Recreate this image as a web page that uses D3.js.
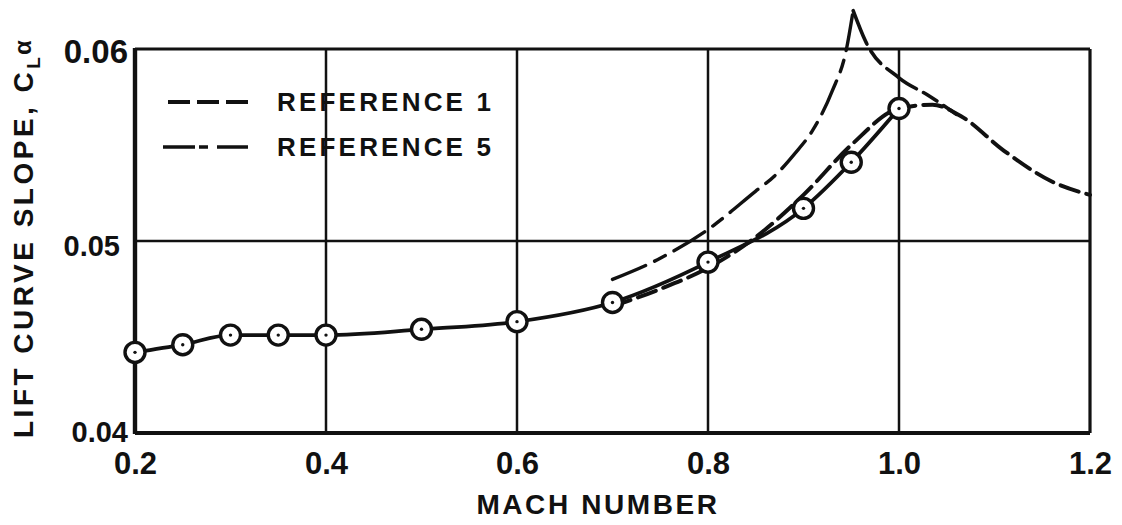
<!DOCTYPE html>
<html><head><meta charset="utf-8">
<script src="https://cdn.jsdelivr.net/npm/d3@7"></script>
<style>
html,body{margin:0;padding:0;background:#fff;}
svg text{font-family:"Liberation Sans",Arial,sans-serif;font-weight:bold;fill:#111;}
</style></head>
<body>
<svg id="c" width="1122" height="525"></svg>
<script>
// ---- data ----
const machTicks = [0.2, 0.4, 0.6, 0.8, 1.0, 1.2];
const machTickLabels = ["0.2", "0.4", "0.6", "0.8", "1.0", "1.2"];
const clTicks = [0.04, 0.05, 0.06];
const clTickLabels = ["0.04", "0.05", "0.06"];

const testMach = [0.2, 0.25, 0.3, 0.35, 0.4, 0.5, 0.6, 0.7, 0.8, 0.9, 0.95, 1.0];
const testCL   = [0.0442, 0.0446, 0.0451, 0.0451, 0.0451, 0.0454, 0.0458, 0.0468, 0.0489, 0.0517, 0.0541, 0.0569];

const ref1Mach = [0.7, 0.75, 0.8, 0.85, 0.9, 0.95, 1.0, 1.035, 1.065, 1.11, 1.16, 1.2];
const ref1CL   = [0.0466, 0.0475, 0.0486, 0.0502, 0.0524, 0.0550, 0.0569, 0.0571, 0.0565, 0.0547, 0.0531, 0.0524];

const ref5Mach = [0.7, 0.75, 0.8, 0.85, 0.87, 0.89, 0.91, 0.93, 0.945, 0.952, 0.965, 1.0, 1.03, 1.06];
const ref5CL   = [0.0480, 0.0491, 0.0506, 0.0526, 0.0534, 0.0545, 0.0558, 0.0578, 0.0600, 0.0620, 0.0604, 0.0585, 0.0576, 0.0566];
const ref5PeakIndex = 9;

const legendLabels = ["REFERENCE 1", "REFERENCE 5"];

// ---- layout ----
const svg = d3.select("#c");
const x = d3.scaleLinear().domain([0.2, 1.2]).range([135, 1090]);
const y = d3.scaleLinear().domain([0.04, 0.06]).range([433, 49]);

// grid
const g = svg.append("g");
g.selectAll(".vg").data(machTicks.slice(1, -1)).enter().append("line")
  .attr("x1", d => x(d)).attr("x2", d => x(d)).attr("y1", y(0.04)).attr("y2", y(0.06))
  .attr("stroke", "#111").attr("stroke-width", 2.5);
g.selectAll(".hg").data([0.05]).enter().append("line")
  .attr("x1", x(0.2)).attr("x2", x(1.2)).attr("y1", d => y(d)).attr("y2", d => y(d))
  .attr("stroke", "#111").attr("stroke-width", 2.5);

// frame
svg.append("line").attr("x1", x(0.2)).attr("x2", x(1.2)).attr("y1", y(0.06)).attr("y2", y(0.06)).attr("stroke", "#111").attr("stroke-width", 3);
svg.append("line").attr("x1", x(1.2)).attr("x2", x(1.2)).attr("y1", y(0.06)).attr("y2", y(0.04)).attr("stroke", "#111").attr("stroke-width", 3.2);
svg.append("line").attr("x1", x(0.2)).attr("x2", x(1.2)).attr("y1", y(0.04)).attr("y2", y(0.04)).attr("stroke", "#111").attr("stroke-width", 3.8);
svg.append("line").attr("x1", x(0.2)).attr("x2", x(0.2)).attr("y1", y(0.06) - 1).attr("y2", y(0.04) + 1).attr("stroke", "#111").attr("stroke-width", 4.4);

// axes tick labels via d3 axes (domain/ticks hidden)
const xAxis = d3.axisBottom(x).tickValues(machTicks).tickFormat((d, i) => machTickLabels[i]).tickSize(0).tickPadding(0);
const xa = svg.append("g").attr("transform", `translate(0,${y(0.04)})`).call(xAxis);
xa.select(".domain").remove();
xa.selectAll("text").attr("font-size", 31).attr("dy", "1.05em").attr("y", 8)
  .style("font-family", "'Liberation Sans',Arial,sans-serif").style("font-weight", "bold").attr("fill", "#111");

const yAxis = d3.axisLeft(y).tickValues(clTicks).tickFormat((d, i) => clTickLabels[i]).tickSize(0).tickPadding(0);
const ya = svg.append("g").attr("transform", `translate(${x(0.2) - 7},0)`).call(yAxis);
ya.select(".domain").remove();
ya.selectAll("text")
  .attr("font-size", (d) => d === 0.06 ? 33 : 29)
  .attr("dy", (d) => d === 0.06 ? "0.42em" : (d === 0.04 ? "0.3em" : "0.5em"))
  .attr("x", (d) => d === 0.04 ? 0 : (d === 0.06 ? 0 : -8))
  .style("font-family", "'Liberation Sans',Arial,sans-serif").style("font-weight", "bold").attr("fill", "#111");

// curves
const line = d3.line().x(d => x(d[0])).y(d => y(d[1]));

const ref1Pts = ref1Mach.map((m, i) => [m, ref1CL[i]]);
svg.append("path").attr("d", line.curve(d3.curveMonotoneX)(ref1Pts))
  .attr("fill", "none").attr("stroke", "#111").attr("stroke-width", 4)
  .attr("stroke-dasharray", "19,8").attr("stroke-linecap", "round");

const ref5Pts = ref5Mach.map((m, i) => [m, ref5CL[i]]);
const ref5Rise = ref5Pts.slice(0, ref5PeakIndex + 1);
const ref5Fall = ref5Pts.slice(ref5PeakIndex);
svg.append("path").attr("d", line.curve(d3.curveMonotoneX)(ref5Rise))
  .attr("fill", "none").attr("stroke", "#111").attr("stroke-width", 3.4)
  .attr("stroke-dasharray", "36,10,12,10").attr("stroke-linecap", "round");
svg.append("path").attr("d", line.curve(d3.curveMonotoneX)(ref5Fall))
  .attr("fill", "none").attr("stroke", "#111").attr("stroke-width", 3.6)
  .attr("stroke-dasharray", "36,8,16,8").attr("stroke-linecap", "round");

const testPts = testMach.map((m, i) => [m, testCL[i]]);
svg.append("path").attr("d", line.curve(d3.curveMonotoneX)(testPts))
  .attr("fill", "none").attr("stroke", "#111").attr("stroke-width", 3.8);

// points
const pts = svg.selectAll(".pt").data(testPts).enter().append("g")
  .attr("transform", d => `translate(${x(d[0])},${y(d[1])})`);
pts.append("circle").attr("r", 10).attr("fill", "#fff").attr("stroke", "#111").attr("stroke-width", 3.4);
pts.append("circle").attr("r", 1.7).attr("fill", "#111");

// legend
const leg = svg.append("g");
leg.append("line").attr("x1", 168).attr("x2", 248).attr("y1", 102).attr("y2", 102)
  .attr("stroke", "#111").attr("stroke-width", 4).attr("stroke-dasharray", "22,7");
leg.append("line").attr("x1", 163).attr("x2", 248).attr("y1", 147).attr("y2", 147)
  .attr("stroke", "#111").attr("stroke-width", 3.4).attr("stroke-dasharray", "32,4,9,9,31");
leg.selectAll(".lt").data(legendLabels).enter().append("text")
  .attr("x", 277).attr("y", (d, i) => 111 + i * 45)
  .attr("font-size", 26).attr("letter-spacing", 3.2).text(d => d);

// axis titles
svg.append("text").attr("x", 598).attr("y", 514).attr("text-anchor", "middle")
  .attr("font-size", 28).attr("letter-spacing", 2.6).text("MACH NUMBER");

const yt = svg.append("text").attr("transform", "translate(33,438) rotate(-90)")
  .attr("font-size", 28).attr("letter-spacing", 3.5);
yt.append("tspan").text("LIFT CURVE SLOPE, C");
yt.append("tspan").attr("font-size", 19).attr("dy", 7).attr("letter-spacing", 1).text("L");
yt.append("tspan").attr("font-size", 24).attr("dy", -9).attr("dx", 1).text("α");
</script>
</body></html>
